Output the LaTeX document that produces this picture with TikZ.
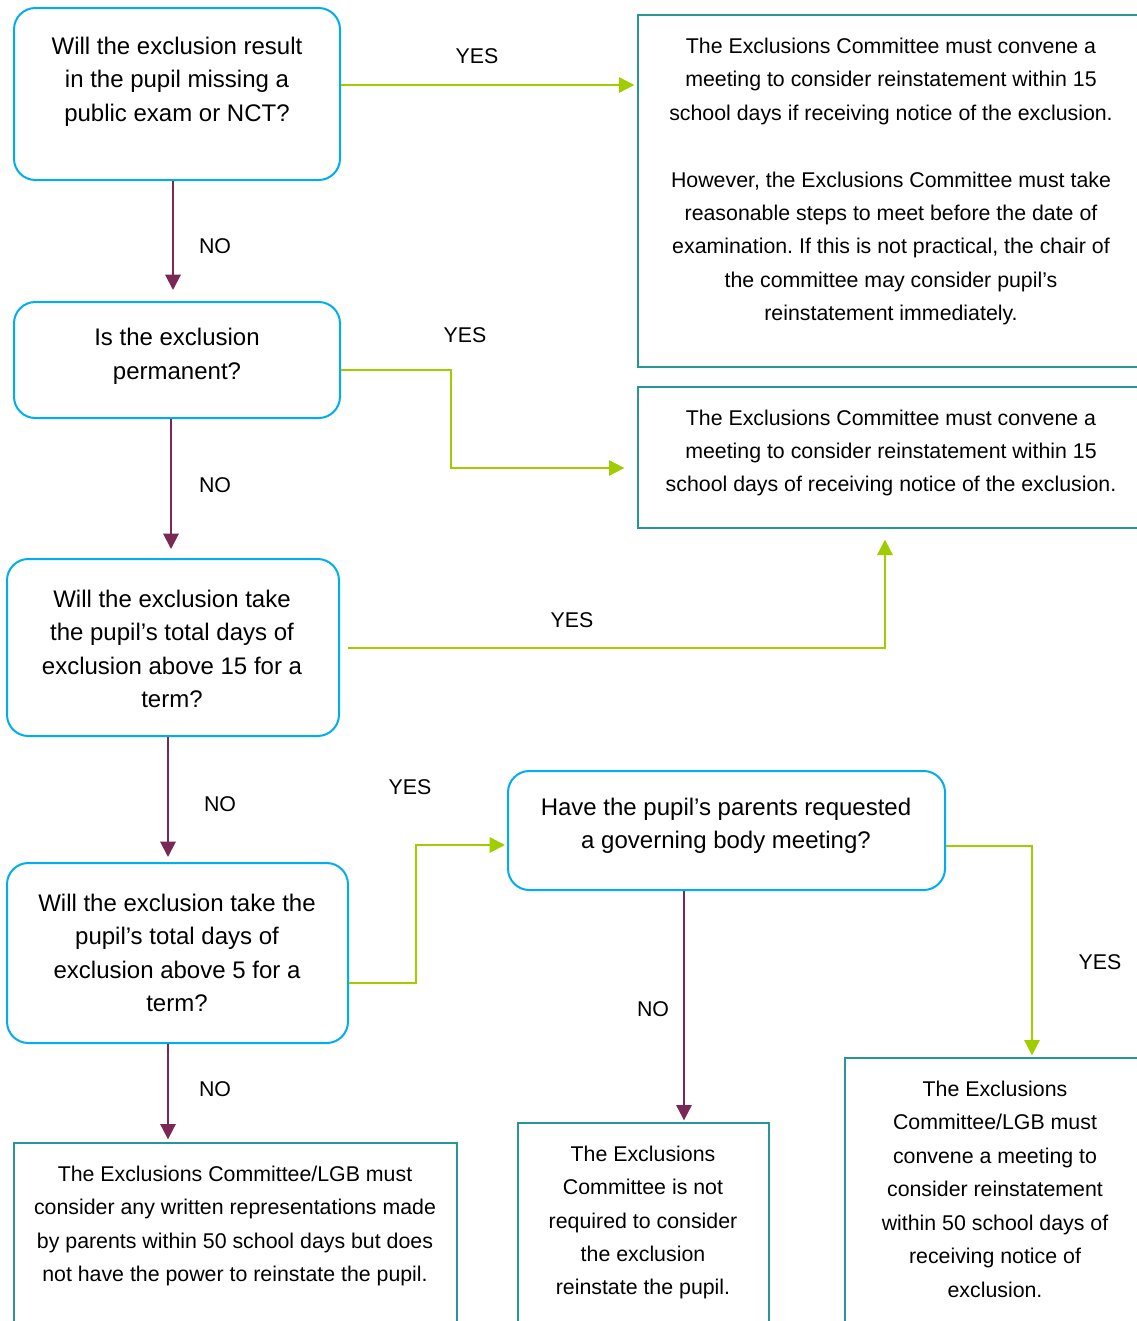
\documentclass[tikz,border=0pt]{standalone}
\usepackage{fontspec}
\setmainfont{Liberation Sans}
\usetikzlibrary{arrows.meta,fit}
\definecolor{qblue}{RGB}{0,174,239}
\definecolor{qteal}{RGB}{38,150,150}
\definecolor{qpurple}{RGB}{122,40,85}
\definecolor{qgreen}{RGB}{160,205,0}
\frenchspacing
\begin{document}
\begin{tikzpicture}[x=0.75pt,y=-0.75pt,
  qbox/.style={draw=qblue, line width=1.5pt, rounded corners=16pt, inner sep=0pt},
  tbox/.style={draw=qteal, line width=1pt, inner sep=0pt},
  bigtxt/.style={align=center, inner sep=0pt, font=\fontsize{18}{25.1}\selectfont},
  smalltxt/.style={align=center, inner sep=0pt, font=\fontsize{16}{25.1}\selectfont},
  lbl/.style={inner sep=0pt, font=\fontsize{16}{19}\selectfont},
  noarr/.style={draw=qpurple, line width=1.5pt, -{Triangle[length=11.5pt,width=11.5pt]}},
  yesarr/.style={draw=qgreen, line width=1.5pt, -{Triangle[length=11.5pt,width=11.5pt]}}]
\useasboundingbox (0,0) rectangle (1137,1321);
\clip (0,0) rectangle (1137,1321);
\fill[white] (0,0) rectangle (1137,1321);

% boxes
\node[qbox, fit={(14,8) (340,180)}] (boxA) {};
\node[qbox, fit={(14,302) (340,418)}] (boxB) {};
\node[qbox, fit={(7,559) (339,736)}] (boxC) {};
\node[qbox, fit={(7,863) (348,1043)}] (boxD) {};
\node[qbox, fit={(508,771) (945,890)}] (boxE) {};
\node[tbox, fit={(638,15) (1145,367)}] (R1) {};
\node[tbox, fit={(638,387) (1145,528)}] (R2) {};
\node[tbox, fit={(14,1143) (457,1345)}] (L1) {};
\node[tbox, fit={(518,1123) (769,1345)}] (M1) {};
\node[tbox, fit={(845,1058) (1145,1345)}] (R3) {};

% texts
\node[bigtxt] (tA) at (177,81.5) {Will the exclusion result\\in the pupil missing a\\public exam or NCT?};
\node[bigtxt] (tB) at (177,356.5) {Is the exclusion\\permanent?};
\node[bigtxt] (tC) at (172,649) {Will the exclusion take\\the pupil’s total days of\\exclusion above 15 for a\\term?};
\node[bigtxt] (tD) at (177,953) {Will the exclusion take the\\pupil’s total days of\\exclusion above 5 for a\\term?};
\node[bigtxt] (tE) at (726,826) {Have the pupil’s parents requested\\a governing body meeting?};
\node[smalltxt] (tR1) at (891,181.5) {The Exclusions Committee must convene a\\meeting to consider reinstatement within 15\\school days if receiving notice of the exclusion.\\[25.1pt]However, the Exclusions Committee must take\\reasonable steps to meet before the date of\\examination. If this is not practical, the chair of\\the committee may consider pupil’s\\reinstatement immediately.};
\node[smalltxt] (tR2) at (891,453) {The Exclusions Committee must convene a\\meeting to consider reinstatement within 15\\school days of receiving notice of the exclusion.};
\node[smalltxt] (tL1) at (235,1226) {The Exclusions Committee/LGB must\\consider any written representations made\\by parents within 50 school days but does\\not have the power to reinstate the pupil.};
\node[smalltxt] (tM1) at (643,1222.5) {The Exclusions\\Committee is not\\required to consider\\the exclusion\\reinstate the pupil.};
\node[smalltxt] (tR3) at (995,1189) {The Exclusions\\Committee/LGB must\\convene a meeting to\\consider reinstatement\\within 50 school days of\\receiving notice of\\exclusion.};

% labels
\node[lbl] (y1) at (477,56) {YES};
\node[lbl] (y2) at (465,335) {YES};
\node[lbl] (y3) at (572,620) {YES};
\node[lbl] (y4) at (410,787) {YES};
\node[lbl] (y5) at (1100,962) {YES};
\node[lbl] (n1) at (215,246) {NO};
\node[lbl] (n2) at (215,485) {NO};
\node[lbl] (n3) at (220,804) {NO};
\node[lbl] (n4) at (215,1089) {NO};
\node[lbl] (n5) at (653,1009) {NO};

% NO connectors
\coordinate (a0) at ([xshift=-3pt]boxA.south);
\draw[noarr, shorten >=8.25pt] (a0) -- (a0 |- boxB.north);
\coordinate (b0) at ([xshift=-4.5pt]boxB.south);
\draw[noarr, shorten >=6.75pt] (b0) -- (b0 |- boxC.north);
\coordinate (c0) at ([xshift=-3.75pt]boxC.south);
\draw[noarr, shorten >=3.75pt] (c0) -- (c0 |- boxD.north);
\coordinate (d0) at ([xshift=-7.125pt]boxD.south);
\draw[noarr, shorten >=2.25pt] (d0) -- (d0 |- L1.north);
\coordinate (e0) at ([xshift=-31.875pt]boxE.south);
\draw[noarr, shorten >=1.5pt] (e0) -- (e0 |- M1.north);

% YES connectors
\coordinate (a1) at ([yshift=6.75pt]boxA.east);
\draw[yesarr, shorten >=2.25pt] (a1) -- (a1 -| R1.west);
\coordinate (b1) at ([yshift=-7.5pt]boxB.east);
\coordinate (r2w) at ([yshift=-7.875pt]R2.west);
\draw[yesarr, shorten >=9.75pt] (b1) -- ++(110,0) |- (r2w);
\coordinate (r2s) at ([xshift=-4.875pt]R2.south);
\draw[yesarr, shorten <=6pt, shorten >=8.25pt] (boxC.east) -| (r2s);
\coordinate (d1) at ([yshift=-22.5pt]boxD.east);
\coordinate (ew) at ([yshift=-10.875pt]boxE.west);
\draw[yesarr, shorten >=1.5pt] (d1) -- ++(67,0) |- (ew);
\coordinate (e1) at ([yshift=-11.625pt]boxE.east);
\coordinate (r3n) at ([xshift=27.75pt]R3.north);
\draw[yesarr, shorten >=1.5pt] (e1) -| (r3n);
\end{tikzpicture}
\end{document}
